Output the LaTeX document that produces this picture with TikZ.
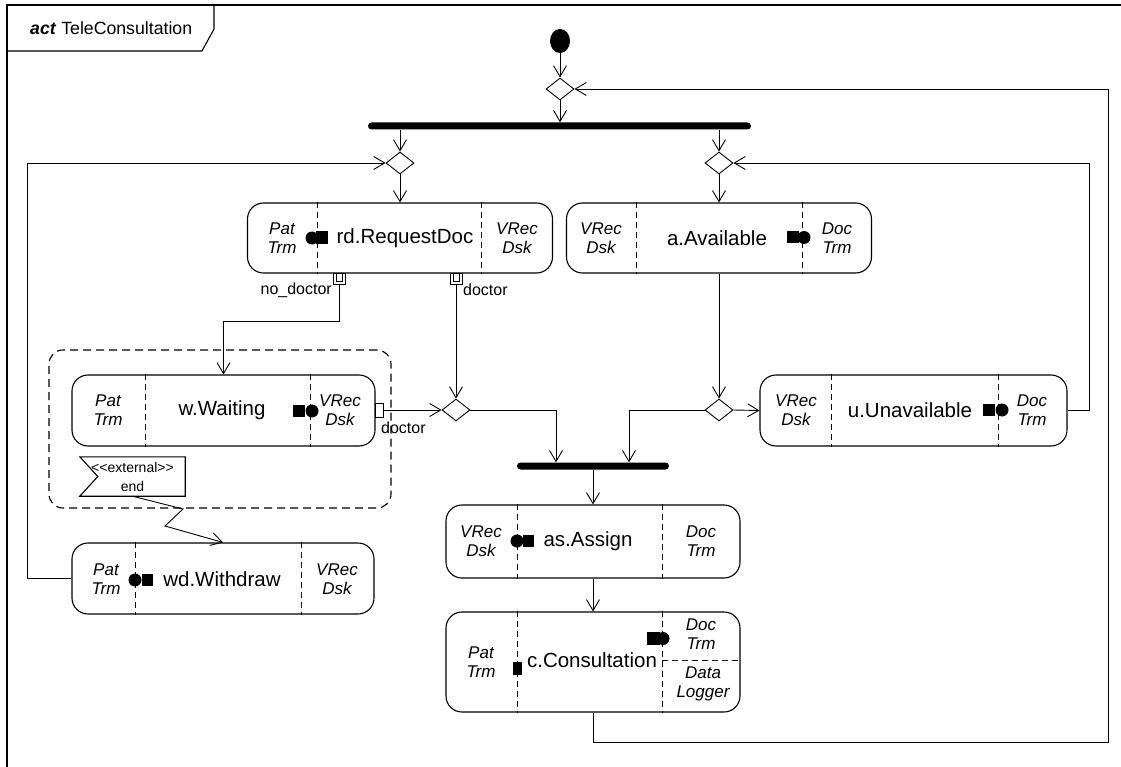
\documentclass[tikz,border=0pt]{standalone}
\usepackage{fontspec}
\setmainfont{Liberation Sans}
\usetikzlibrary{arrows.meta,shapes.geometric,calc}
\begin{document}
\begin{tikzpicture}[x=1pt,y=-1pt,
  act/.style={draw,line width=1.1pt,rounded corners=16pt,inner sep=0pt},
  div/.style={line width=0.9pt,dash pattern=on 6pt off 4pt},
  lbl/.style={font=\fontsize{17}{19.5}\selectfont\itshape,align=center,inner sep=0pt},
  mtxt/.style={font=\fontsize{20.5}{24}\selectfont,inner sep=0pt},
  dec/.style={draw,diamond,line width=0.9pt,minimum width=28pt,minimum height=22pt,inner sep=0pt},
  flow/.style={line width=0.9pt,-{Straight Barb[length=11pt,width=13pt,line width=0.9pt]}},
  ln/.style={line width=0.9pt},
  forkbar/.style={fill=black,inner sep=0pt,minimum height=7pt,rounded corners=3.5pt},
  pinlbl/.style={font=\fontsize{16}{18}\selectfont,inner sep=0pt},
  pinbox/.style={draw,line width=0.9pt,fill=white,inner sep=0pt}
]
\useasboundingbox (0,0) rectangle (1121,767);

% frame
\draw[line width=1.1pt] (7,767) -- (7,5) -- (1125,5);
\draw[line width=1.1pt] (7,51) -- (202,51) -- (214,29) -- (214,5);
\node[anchor=west,font=\fontsize{17.7}{20}\selectfont,inner sep=0pt] (title) at (30,28) {\textbf{\textit{act}} TeleConsultation};

% control nodes
\node[ellipse,fill=black,minimum width=20pt,minimum height=24pt,inner sep=0pt] (init) at (560,41) {};
\node[dec] (d0) at (560,89) {};
\node[forkbar,minimum width=383pt] (fork1) at (559.5,126) {};
\node[dec] (dL) at (400,163) {};
\node[dec] (dR) at (719,163) {};
\node[dec] (dLL) at (456,410) {};
\node[dec] (dLR) at (719,410) {};
\node[forkbar,minimum width=152pt] (fork2) at (593,466) {};

% interruptible region
\node[draw,line width=1.1pt,dash pattern=on 8pt off 5pt,rounded corners=14pt,minimum width=342pt,minimum height=158pt,inner sep=0pt] (ir) at (220,429) {};

% actions
\node[act,minimum width=305pt,minimum height=70pt] (rd) at (400,238) {};
\node[act,minimum width=305pt,minimum height=70pt] (av) at (719,238) {};
\node[act,minimum width=303pt,minimum height=71pt] (w) at (223.5,410.5) {};
\node[act,minimum width=307pt,minimum height=71pt] (u) at (913.5,410.5) {};
\node[act,minimum width=302pt,minimum height=71pt] (wd) at (223,578.5) {};
\node[act,minimum width=294pt,minimum height=73pt] (as) at (593,541.5) {};
\node[act,minimum width=294pt,minimum height=100pt] (c) at (593,662) {};

% dividers
\coordinate (x1) at (317,0); \coordinate (x2) at (481,0);
\draw[div] (rd.north -| x1) -- (rd.south -| x1);
\draw[div] (rd.north -| x2) -- (rd.south -| x2);
\coordinate (x3) at (636,0); \coordinate (x4) at (802,0);
\draw[div] (av.north -| x3) -- (av.south -| x3);
\draw[div] (av.north -| x4) -- (av.south -| x4);
\coordinate (x5) at (145,0); \coordinate (x6) at (310,0);
\draw[div] (w.north -| x5) -- (w.south -| x5);
\draw[div] (w.north -| x6) -- (w.south -| x6);
\coordinate (x7) at (831,0); \coordinate (x8) at (998,0);
\draw[div] (u.north -| x7) -- (u.south -| x7);
\draw[div] (u.north -| x8) -- (u.south -| x8);
\coordinate (x9) at (135,0); \coordinate (x10) at (301,0);
\draw[div] (wd.north -| x9) -- (wd.south -| x9);
\draw[div] (wd.north -| x10) -- (wd.south -| x10);
\coordinate (x11) at (517,0); \coordinate (x12) at (662,0);
\draw[div] (as.north -| x11) -- (as.south -| x11);
\draw[div] (as.north -| x12) -- (as.south -| x12);
\draw[div] (c.north -| x11) -- (c.south -| x11);
\draw[div] (c.north -| x12) -- (c.south -| x12);
\coordinate (cy) at (0,660);
\draw[div] (cy -| x12) -- (cy -| c.east);

% texts
\node[lbl] (rdL) at (282,238) {Pat\\Trm};
\node[mtxt] (rdM) at (405,238) {rd.RequestDoc};
\node[lbl] (rdR) at (517,238) {VRec\\Dsk};
\node[lbl] (avL) at (601,238) {VRec\\Dsk};
\node[mtxt] (avM) at (717,238) {a.Available};
\node[lbl] (avR) at (837,238) {Doc\\Trm};
\node[lbl] (wL) at (108,410) {Pat\\Trm};
\node[mtxt] (wM) at (222,410) {w.Waiting};
\node[lbl] (wR) at (340,410) {VRec\\Dsk};
\node[lbl] (uL) at (796,410) {VRec\\Dsk};
\node[mtxt] (uM) at (910,410) {u.Unavailable};
\node[lbl] (uR) at (1032,410) {Doc\\Trm};
\node[lbl] (wdL) at (106,579) {Pat\\Trm};
\node[mtxt] (wdM) at (222,579) {wd.Withdraw};
\node[lbl] (wdR) at (337,579) {VRec\\Dsk};
\node[lbl] (asL) at (481,541) {VRec\\Dsk};
\node[mtxt] (asM) at (588,541) {as.Assign};
\node[lbl] (asR) at (701,541) {Doc\\Trm};
\node[lbl] (cL) at (481,662) {Pat\\Trm};
\node[mtxt] (cM) at (592,660) {c.Consultation};
\node[lbl] (cR1) at (701,634) {Doc\\Trm};
\node[lbl] (cR2) at (703,684) {Data\\Logger};

% pin icons (filled circle / square)
\fill (312,238) circle[radius=6.5pt];  \fill (316,231.5) rectangle (328,244);
\fill (787,231) rectangle (799,243);  \fill (804,237.5) circle[radius=6.5pt];
\fill (293,405) rectangle (305,417);  \fill (312,411) circle[radius=6.5pt];
\fill (983,404) rectangle (995,416);  \fill (1002,410) circle[radius=6.5pt];
\fill (135,580) circle[radius=6.5pt]; \fill (142,574) rectangle (153,586);
\fill (517,541) circle[radius=6.5pt]; \fill (523,535) rectangle (534,547);
\fill (513,662) rectangle (522,675);
\fill (647,632) rectangle (660,645); \fill (663,638.5) circle[radius=6.5pt];

% output pins
\node[pinbox,minimum width=12pt,minimum height=11pt] (pinND) at (339,279) {};
\draw[ln] (336,273.5) -- (336,281.5) -- (342,281.5) -- (342,273.5);
\node[pinbox,minimum width=12pt,minimum height=11pt] (pinD) at (456,279) {};
\draw[ln] (453,273.5) -- (453,281.5) -- (459,281.5) -- (459,273.5);
\node[pinbox,minimum width=8pt,minimum height=14pt] (pinW) at (379,410) {};
\node[pinlbl,anchor=east] (lND) at (332,290) {no\_doctor};
\node[pinlbl,anchor=west] (lD) at (463,290) {doctor};
\node[pinlbl,anchor=west] (lW) at (381,428) {doctor};

% accept event (flag)
\node[minimum width=105pt,minimum height=39pt,inner sep=0pt,align=center,font=\fontsize{14}{19}\selectfont] (ev) at (132.5,476.5) {<\kern0pt<\kern0pt external\kern0pt>\kern0pt>\\end};
\draw[line width=1.1pt] (ev.north west) -- (ev.north east) -- (ev.south east) -- (ev.south west) -- ($(ev.west)+(18,0)$) -- cycle;

% flows
\draw[flow] (init) -- (d0);
\draw[flow] (d0.south) -- (d0.south |- fork1.north);
\draw[flow] (fork1.south -| dL.north) -- (dL.north);
\draw[flow] (fork1.south -| dR.north) -- (dR.north);
\draw[flow] (dL.south) -- (rd.north);
\draw[flow] (dR.south) -- (av.north);
\draw[flow] (pinND.south) -- ++(0,36) -| (w.north);
\draw[flow] (pinD.south) -- (dLL.north);
\draw[flow] (av.south) -- (dLR.north);
\draw[flow] (pinW.east) -- (dLL.west);
\draw[flow] (dLR.east) -- (u.west);
\coordinate (xa) at (556,0); \coordinate (xb) at (629,0);
\draw[flow] (dLL.east) -| (fork2.north -| xa);
\draw[flow] (dLR.west) -| (fork2.north -| xb);
\draw[flow] (fork2.south) -- (as.north);
\draw[flow] (as.south) -- (c.north);
\draw[flow] (c.south) |- (1108,742) |- (d0.east);
\draw[flow] (u.east) -- ++(22,0) |- (dR.east);
\draw[flow] (wd.west) -- ++(-44,0) |- (dL.west);
\draw[flow] (ev.south) -- (183,509) -- (165,526) -- (wd.north);
\end{tikzpicture}
\end{document}
